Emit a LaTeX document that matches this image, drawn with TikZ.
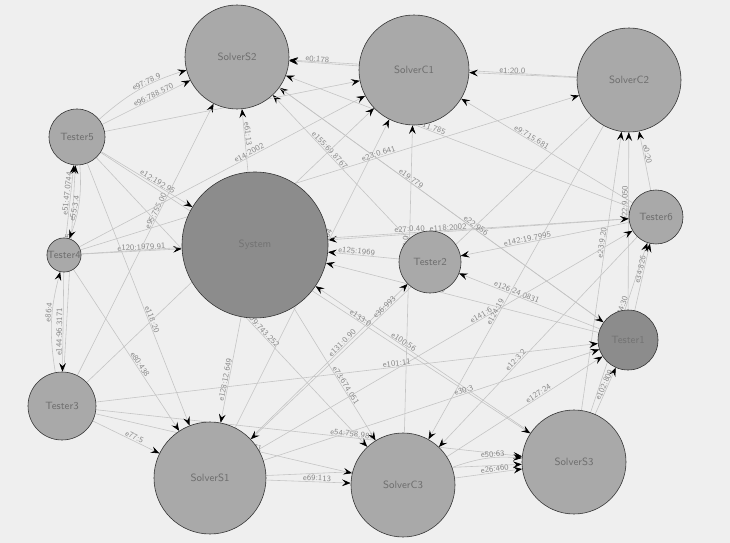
\documentclass[tikz,border=0pt]{standalone}
\usepackage{xcolor}
\usepackage{tikz}
\usetikzlibrary{arrows.meta,backgrounds}

\definecolor{bgcol}{HTML}{EFEFEF}
\definecolor{nodefill}{HTML}{A9A9A9}
\definecolor{darkfill}{HTML}{8C8C8C}
\definecolor{edgecol}{HTML}{C4C4C4}
\definecolor{labcol}{HTML}{8A8A8A}
\definecolor{darklab}{HTML}{6E6E6E}

\begin{document}
\begin{tikzpicture}[x=0.03cm, y=-0.03cm, font=\sffamily]
            \tikzstyle{agent} = [circle, draw=black!80, line width=0.5pt, fill=nodefill, text=darklab, font=\sffamily\small, inner sep=0pt]
            \tikzstyle{busy} = [agent, fill=darkfill, text=black!55]
            \tikzstyle{link} = [draw=edgecol, line width=0.5pt, -{Stealth[length=2.6mm, width=2mm, inset=1mm, black]}]
            \tikzstyle{weight} = [sloped, pos=0.6, above, inner sep=0.5pt, text=labcol, font=\sffamily\scriptsize]
            \useasboundingbox (0,0) rectangle (730,543);

            \node [agent, minimum size=3.12cm] (S2) at (237,57) {SolverS2};
            \node [agent, minimum size=3.3cm] (C1) at (414,70) {SolverC1};
            \node [agent, minimum size=3.12cm] (C2) at (629,80) {SolverC2};
            \node [agent, minimum size=1.68cm] (T5) at (77,137) {Tester5};
            \node [busy, minimum size=4.38cm] (Sys) at (255,245) {System};
            \node [agent, minimum size=1.86cm] (T2) at (430,262) {Tester2};
            \node [agent, minimum size=1.62cm] (T6) at (656,217) {Tester6};
            \node [agent, minimum size=0.9cm] (T4) at (64,255) {Tester4};
            \node [busy, minimum size=1.8cm] (T1) at (628,340) {Tester1};
            \node [agent, minimum size=2.04cm] (T3) at (62,406) {Tester3};
            \node [agent, minimum size=3.36cm] (S1) at (210,478) {SolverS1};
            \node [agent, minimum size=3.12cm] (C3) at (403,485) {SolverC3};
            \node [agent, minimum size=3.12cm] (S3) at (574,462) {SolverS3};

            \begin{scope}[on background layer]
            \fill [bgcol] (0,0) rectangle (730,543);
            \foreach \from/\to/\w in {
                T5/S2/e96:788.570, T4/T5/e51:47.0744,
                T5/Sys/e12:192.95, T4/Sys/e120:1979.91, T3/S2/e95:755.00, T3/T5/e94:755,
                Sys/S2/e61:13, T2/S2/e155:69.8767, C1/S2/e0:178, C2/S2/e7:73,
                T6/S2/e11:811.785, T1/S2/e19:779, C2/C1/e1:20.0, T6/C1/e9:715.681,
                T6/C2/e0:20, S3/C2/e23:9.20, T1/C2/e22:9.050, T2/Sys/e125:1969,
                T6/Sys/e118:2002, T6/T2/e142:19.7995, T1/T6/e34:826, S3/T6/e134:30,
                T1/T2/e126:24.0831, S3/T1/e102:809, C3/T1/e127:24, S1/T2/e131:0.90,
                C3/S3/e26:460, S1/S3/e55:758.981, T3/S3/e54:758.981,
                S1/C3/e69:113, T3/C3/e47:71, T4/S1/e80:438, T3/S1/e77:5,
                Sys/S1/e128:12.649, Sys/C3/e73:674.051, T5/C3/e109:743.252, T4/T3/e144:96.3171,
                T5/S1/e118:20, T4/C1/e14:2002, T5/C1/e21:965,
                T3/C1/e111:776, S1/C1/e4:5.04, C3/C1/e113:0, S3/Sys/e100:56,
                T1/Sys/e6:18, S1/T6/e141:6, T3/T1/e101:11, T4/C2/e23:0.641,
                T4/T6/e27:0.40, S2/T1/e22:956, T5/S3/e133:0, C2/S1/e36:993,
                C2/C3/e124:19, T6/C3/e12:3.2, S1/T1/e30:3}
                \draw [link] (\from) to node [weight] {\w} (\to);
            % second edges between the same pairs
            \foreach \from/\to/\w in {
                T5/S2/e97:78.9, T5/T4/e55:3.4, T3/T4/e86:4, C3/S3/e50:63}
                \draw [link] (\from) to [bend left=12] node [weight] {\w} (\to);
            \end{scope}
        \end{tikzpicture}
\end{document}
